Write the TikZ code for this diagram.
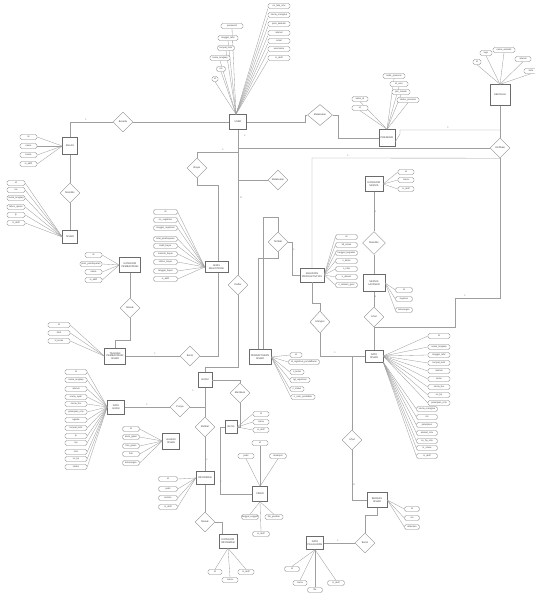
\documentclass[tikz,border=0pt]{standalone}
\usepackage{fontspec}
\setmainfont{Liberation Sans}
\usetikzlibrary{shapes.geometric}
\begin{document}
\begin{tikzpicture}[x=1pt,y=-1pt,
 ent/.style={draw=black!58, fill=white, line width=0.45pt, inner sep=0.3pt, align=center, font=\fontsize{2.5}{2.8}\selectfont, text=black!75},
 attr/.style={draw=black!50, fill=white, rounded corners=1.6pt, line width=0.35pt, minimum height=5pt, inner sep=0.2pt, font=\fontsize{2.3}{2.5}\selectfont, text=black!75},
 rel/.style={draw=black!45, fill=white, diamond, aspect=1, minimum width=20pt, minimum height=20pt, inner sep=0pt, line width=0.4pt, font=\fontsize{2.5}{2.8}\selectfont, text=black!75},
 ln/.style={draw=black!38, line width=0.33pt},
 card/.style={font=\fontsize{2.3}{2.5}\selectfont, text=black!55, inner sep=0.3pt}]
\useasboundingbox[fill=white] (0,0) rectangle (535,594);

% ---------- entities ----------
\node[ent, minimum width=15pt, minimum height=17pt] (kelas) at (70,146) {KELAS};
\node[ent, minimum width=15pt, minimum height=13pt] (siswa) at (70,237) {SISWA};
\node[ent, minimum width=17pt, minimum height=15pt] (user) at (238,122) {USER};
\node[ent, minimum width=16pt, minimum height=17pt] (pres) at (387,138) {PRESENSI};
\node[ent, minimum width=20pt, minimum height=21pt] (sek) at (500,95) {SEKOLAH};
\node[ent, minimum width=21pt, minimum height=15pt] (kp) at (130,265) {KATEGORI\\PEMBAYARAN};
\node[ent, minimum width=23pt, minimum height=11pt] (jr) at (216.5,267) {JENIS\\REGISTRASI};
\node[ent, minimum width=24pt, minimum height=14pt] (keg) at (312,275) {KEGIATAN\\PRODUKTIVITAS};
\node[ent, minimum width=18pt, minimum height=15pt] (ks) at (374,184) {KATEGORI\\SERVIS};
\node[ent, minimum width=22pt, minimum height=17pt] (sl) at (374,283) {SERVIS\\LAYANAN};
\node[ent, minimum width=18pt, minimum height=12pt] (ds) at (374,356) {DATA\\SISWA};
\node[ent, minimum width=21pt, minimum height=16pt] (tag) at (115,356) {TAGIHAN\\PEMBAYARAN\\SISWA};
\node[ent, minimum width=17pt, minimum height=14pt] (dg) at (116,407) {DATA\\GURU};
\node[ent, minimum width=14pt, minimum height=15pt] (guru) at (205,380) {GURU};
\node[ent, minimum width=17pt, minimum height=16pt] (gal) at (171,441) {GALERI\\SISWA};
\node[ent, minimum width=22pt, minimum height=15pt] (pd) at (260,357) {PENDAFTARAN\\SISWA};
\node[ent, minimum width=12pt, minimum height=13pt] (blog) at (231,427) {BLOG};
\node[ent, minimum width=18pt, minimum height=13pt] (info) at (205,478) {INFORMASI};
\node[ent, minimum width=18pt, minimum height=14pt] (ki) at (228,541) {KATEGORI\\INFORMASI};
\node[ent, minimum width=15pt, minimum height=15pt] (vid) at (260,494) {VIDEO};
\node[ent, minimum width=17pt, minimum height=13pt] (dp) at (315,543) {DATA\\PELAJARAN};
\node[ent, minimum width=20pt, minimum height=15pt] (bk) at (377,500) {BERKAS\\SISWA};

% ---------- relationships ----------
\node[rel] (r1) at (123,122) {Berada};
\node[rel] (r2) at (70,193) {Memiliki};
\node[rel, minimum width=25pt, minimum height=21pt] (r3) at (320,115) {Melakukan};
\node[rel] (r4) at (500,148) {Verifikasi};
\node[rel] (r5) at (197,168) {Bayar};
\node[rel] (r6) at (278,180) {Melakukan};
\node[rel] (r7) at (278,242) {Terlibat};
\node[rel] (r8) at (238,285) {Daftar};
\node[rel, minimum width=23pt, minimum height=23pt] (r9) at (374,243) {Memiliki};
\node[rel] (r10) at (374,317) {Lihat};
\node[rel, minimum height=22pt] (r11) at (320,322) {Mengisi};
\node[rel] (r12) at (130,308) {Masuk};
\node[rel] (r13) at (190,356) {Berisi};
\node[rel] (r14) at (180,407) {Punya};
\node[rel] (r15) at (240,393) {Membuat};
\node[rel] (r16) at (205,427) {Melihat};
\node[rel] (r17) at (205,522) {Masuk};
\node[rel] (r18) at (352,440) {Lihat};
\node[rel] (r19) at (365,543) {Berisi};

% ---------- relationship connectors ----------
\draw[ln] (kelas.north) |- (r1.west);
\draw[ln] (r1.east) -- (r1.east -| user.west);
\draw[ln] (kelas.south) -- (r2.north);
\draw[ln] (r2.south) -- (siswa.north);
\draw[ln] (user.east) -- (305,122) |- (r3.west);
\draw[ln] (r3.east) -- (338,115) |- (pres.west);
\draw[ln] (user.south) -- (r8.north);
\draw[ln] (238,148) -- (r4.west);
\draw[ln] (238,152) -| (r5.north);
\draw[ln] (r5.south) -- (197,185) -| ([xshift=1.5pt]jr.north);
\draw[ln] (238,180) -- (r6.west);
\draw[ln] ([xshift=1.5pt]jr.south) |- (r13.east);
\draw[ln] (r13.west) -- (tag.east);
\draw[ln] (kp.south) -- (r12.north);
\draw[ln] (r12.south) -- (130,340) -| (tag.north);
\draw[ln] (sek.south) -- (r4.north);
\draw[ln] ([yshift=-4pt]pres.east) -- (400,134) |- (500,130);
\draw[ln] (r4.south) -- (312,158) -- (keg.north);
\draw[ln] (r4.south) -- (500,298) -| (455,327) -- (374,327);
\draw[ln] (keg.south) -- (312,303) -| (r11.north);
\draw[ln] (r11.south) |- (ds.west);
\draw[ln] (r18.north) -- (r18.north |- ds.west);
\draw[ln] (r18.south) |- (bk.west);
\draw[ln] (ks.south) -- (r9.north);
\draw[ln] (r9.south) -- (sl.north);
\draw[ln] (sl.south) -- (r10.north);
\draw[ln] (r10.south) -- (ds.north);
\draw[ln] ([xshift=3pt]pd.north) -- (263,217) -| (r7.north);
\draw[ln] ([xshift=-2pt]pd.north) -- (258,258) -| (r7.south);
\draw[ln] (r7.east) -| (292,275) -- (keg.west);
\draw[ln] (r8.south) -- (238,367) -| (guru.north);
\draw[ln] (dg.east) -- (r14.west);
\draw[ln] (r14.east) -- (205,407);
\draw[ln] (guru.south) -- (r16.north);
\draw[ln] (r16.south) -- (info.north);
\draw[ln] (info.south) -- (r17.north);
\draw[ln] (r17.east) -| ([xshift=-6pt]ki.north);
\draw[ln] (guru.east) -| (r15.north);
\draw[ln] (r15.south) |- (blog.east);
\draw[ln] (blog.west) -| (220,494) -- (vid.west);
\draw[ln] (dp.east) -- (r19.west);
\draw[ln] (r19.north) -- (365,515) -| (bk.south);

% ---------- cardinalities ----------
\node[card] at (86,119.5) {1};
\node[card] at (245,136) {1};
\node[card] at (448,128) {1};
\node[card] at (223,150) {1};
\node[card] at (241,198) {N};
\node[card] at (348,156) {1};
\node[card] at (155,353.5) {1};
\node[card] at (147,404.5) {1};
\node[card] at (193,390.5) {1};
\node[card] at (207,460) {1};
\node[card] at (221,482) {1};
\node[card] at (354,485) {N};
\node[card] at (338,541) {1};
\node[card] at (335,353) {1};
\node[card] at (465,296) {1};
\node[card] at (375.5,297) {N};
\node[card] at (375.5,212) {1};
\node[card] at (294,250) {1};

% ---------- attributes ----------
\foreach \yy/\lbl [count=\cc] in {137/id,146/nama,155/kuota,164/is\_aktif}
 {\node[attr, minimum width=17pt] (a1\cc) at (28.5,\yy) {\lbl}; \draw[ln] (a1\cc.east) -- (kelas.west);}
\foreach \yy/\lbl [count=\cc] in {183/id,190/nis,198/nama\_lengkap,207/tahun\_ajaran,215/jk,223/is\_aktif}
 {\node[attr, minimum width=18pt] (a2\cc) at (16,\yy) {\lbl}; \draw[ln] (a2\cc.east) -- (siswa.west);}
\foreach \xx/\yy/\ww/\lbl [count=\cc] in {232/26/22/password,228/38/20/tanggal\_lahir,226/48/17/tempat\_lahir,220/58/20/nama\_lengkap,221/69/9/nis,215/79/6/id}
 {\node[attr, minimum width=\ww pt] (a3\cc) at (\xx,\yy) {\lbl}; \draw[ln] (a3\cc.south) -- ([xshift=-2pt]user.north);}
\foreach \yy/\lbl [count=\cc] in {6/no\_telp\_ortu,15/nama\_orangtua,24/jenis\_kelamin,33/alamat,41/email,49/username,58/is\_aktif}
 {\node[attr, minimum width=22pt] (a4\cc) at (279,\yy) {\lbl}; \draw[ln] (a4\cc.south west) -- ([xshift=-2pt]user.north);}
\foreach \xx/\yy/\ww/\lbl [count=\cc] in {394/76/22/kode\_presensi,399/84/18/id\_user,401/92/18/jam\_masuk,408/100/22/status\_presensi,360/99/16/kelas\_id,360/108/16/id}
 {\node[attr, minimum width=\ww pt] (a5\cc) at (\xx,\yy) {\lbl}; \draw[ln] (a5\cc.south) -- (pres.north);}
\foreach \xx/\yy/\ww/\lbl [count=\cc] in {477/62/8/id,486/53/12/logo,504/50/22/nama\_sekolah,523/59/16/alamat,531/71/14/kota}
 {\node[attr, minimum width=\ww pt] (a6\cc) at (\xx,\yy) {\lbl}; \draw[ln] (a6\cc.south) -- (sek.north);}
\foreach \xx/\yy/\ww/\lbl [count=\cc] in {93.5/255/17/id,91/264/22/jenis\_pembayaran,93.5/272/17/nama,93.5/280/17/is\_aktif}
 {\node[attr, minimum width=\ww pt] (a7\cc) at (\xx,\yy) {\lbl}; \draw[ln] (a7\cc.east) -- (kp.west);}
\foreach \yy/\lbl [count=\cc] in {212/id,220/no\_registrasi,228/tanggal\_registrasi,239/total\_pembayaran,246/bukti\_bayar,254/metode\_bayar,262/status\_bayar,271/tanggal\_bayar,279/is\_aktif}
 {\node[attr, minimum width=24pt] (a8\cc) at (165.5,\yy) {\lbl}; \draw[ln] (a8\cc.east) -- (jr.west);}
\foreach \yy/\lbl [count=\cc] in {237/id,245/kd\_siswa,253/tanggal\_kegiatan,261/n\_kelas,269/n\_nilai,277/n\_ulasan,285/n\_catatan\_guru}
 {\node[attr, minimum width=22pt] (a9\cc) at (346.5,\yy) {\lbl}; \draw[ln] (a9\cc.west) -- (keg.east);}
\foreach \yy/\lbl [count=\cc] in {172/id,180/nama,189/is\_aktif}
 {\node[attr, minimum width=16pt] (b1\cc) at (406,\yy) {\lbl}; \draw[ln] (b1\cc.west) -- (ks.east);}
\foreach \yy/\lbl [count=\cc] in {290/id,299/layanan,310/keterangan}
 {\node[attr, minimum width=17pt] (b2\cc) at (404,\yy) {\lbl}; \draw[ln] (b2\cc.west) -- (sl.east);}
\foreach \yy/\lbl [count=\cc] in {336/id,347/nama\_lengkap,355/tanggal\_lahir,363/tempat\_lahir,371/alamat,379/kelas,387/nama\_ibu,395/no\_hp,403/pekerjaan\_ortu}
 {\node[attr, minimum width=22pt] (b3\cc) at (439,\yy) {\lbl}; \draw[ln] (b3\cc.west) -- (ds.east);}
\foreach \yy/\lbl [count=\cc] in {409/nama\_orangtua,417/nis,425/pekerjaan,433/alamat\_ortu,441/no\_hp\_ortu,448/is\_siswa,456/is\_aktif}
 {\node[attr, minimum width=21pt] (b4\cc) at (427,\yy) {\lbl}; \draw[ln] (b4\cc.west) -- (ds.south east);}
\foreach \yy/\lbl [count=\cc] in {325/id,333/total,341/is\_lunas}
 {\node[attr, minimum width=22pt] (b5\cc) at (59,\yy) {\lbl}; \draw[ln] (b5\cc.east) -- (tag.west);}
\foreach \yy/\lbl [count=\cc] in {372/id,380/nama\_lengkap,389/alamat,397/nama\_ayah,404/nama\_ibu,412/pekerjaan\_ortu,420/agama,428/tempat\_lahir,436/jk,443/nip,452/nisn,459/no\_hp,467/status}
 {\node[attr, minimum width=22pt] (b6\cc) at (76,\yy) {\lbl}; \draw[ln] (b6\cc.east) -- (dg.west);}
\foreach \yy/\lbl [count=\cc] in {429/id,437/kode\_galeri,446/foto\_galeri,454/foto,463/keterangan}
 {\node[attr, minimum width=17pt] (b7\cc) at (131,\yy) {\lbl}; \draw[ln] (b7\cc.east) -- (gal.west);}
\foreach \xx/\yy/\ww/\lbl [count=\cc] in {296/355/12/id,304/362/31/id\_registrasi\_pendaftaran,297/372/14/n\_kelas,300/380/20/tgl\_registrasi,297/389/14/n\_status,303/397/24/n\_user\_pendaftar}
 {\node[attr, minimum width=\ww pt] (b8\cc) at (\xx,\yy) {\lbl}; \draw[ln] (b8\cc.west) -- (pd.east);}
\foreach \yy/\lbl [count=\cc] in {414/id,422/nama,430/is\_aktif}
 {\node[attr, minimum width=16pt] (b9\cc) at (261,\yy) {\lbl}; \draw[ln] (b9\cc.west) -- (blog.east);}
\foreach \yy/\lbl [count=\cc] in {479/id,489/judul,498/konten,507/is\_aktif}
 {\node[attr, minimum width=19pt] (c1\cc) at (168,\yy) {\lbl}; \draw[ln] (c1\cc.east) -- (info.west);}
\foreach \xx/\yy/\ww/\lbl [count=\cc] in {215/572/14/id,230/580/16/nama,246/572/16/is\_aktif}
 {\node[attr, minimum width=\ww pt] (c2\cc) at (\xx,\yy) {\lbl}; \draw[ln] (c2\cc.north) -- (ki.south);}
\foreach \xx/\yy/\ww/\lbl [count=\cc] in {260/443/16/id,246/456/16/judul,278/456/17/deskripsi}
 {\node[attr, minimum width=\ww pt] (c3\cc) at (\xx,\yy) {\lbl}; \draw[ln] (c3\cc.south) -- (vid.north);}
\foreach \xx/\yy/\ww/\lbl [count=\cc] in {250/517/17/tanggal\_unggah,274/517/18/file\_gambar,261/534/17/is\_aktif}
 {\node[attr, minimum width=\ww pt] (c4\cc) at (\xx,\yy) {\lbl}; \draw[ln] (c4\cc.north) -- (vid.south);}
\foreach \xx/\yy/\ww/\lbl [count=\cc] in {292/569/15/id,300/583/14/nama,315/590/15/file,336/583/17/is\_aktif}
 {\node[attr, minimum width=\ww pt] (c5\cc) at (\xx,\yy) {\lbl}; \draw[ln] (c5\cc.north) -- (dp.south);}
\foreach \yy/\lbl [count=\cc] in {509/id,518/nis,527/dokumen}
 {\node[attr, minimum width=15pt] (c6\cc) at (412,\yy) {\lbl}; \draw[ln] (c6\cc.west) -- (bk.east);}
\end{tikzpicture}
\end{document}
